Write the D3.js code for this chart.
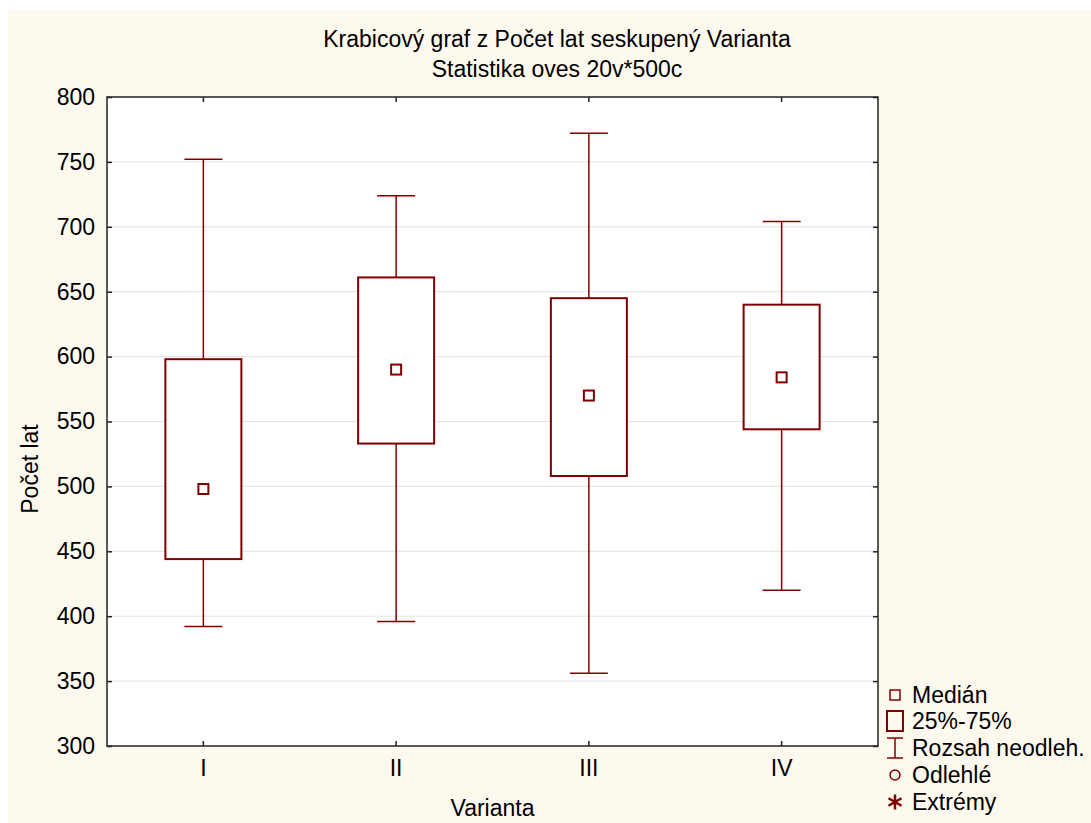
<!DOCTYPE html>
<html>
<head>
<meta charset="utf-8">
<script src="https://cdn.jsdelivr.net/npm/d3@7"></script>
<style>
  body { margin: 0; background: #ffffff; }
  text { font-family: "Liberation Sans", Arial, sans-serif; fill: #000; }
</style>
</head>
<body>
<div id="chart"></div>
<script>
// data
var categories = ["I", "II", "III", "IV"];
var whiskerLow = [392, 396, 356, 420];
var q1 = [444, 533, 508, 544];
var median = [498, 590, 570, 584];
var q3 = [598, 661, 645, 640];
var whiskerHigh = [752, 724, 772, 704];
var yTicks = [300, 350, 400, 450, 500, 550, 600, 650, 700, 750, 800];
var legendLabels = ["Medián", "25%-75%", "Rozsah neodleh.", "Odlehlé", "Extrémy"];

var width = 1091, height = 823;
var margin = { top: 97, right: 213, bottom: 77, left: 107 },
    plotW = width - margin.left - margin.right,
    plotH = height - margin.top - margin.bottom;

var red = "#800000";
var fontSize = "23px";

var svg = d3.select("#chart")
  .append("svg")
  .attr("width", width)
  .attr("height", height);

// cream background
svg.append("rect")
  .attr("x", 8).attr("y", 10)
  .attr("width", width - 8).attr("height", height - 10)
  .attr("fill", "#fdf9ee");

var g = svg.append("g")
  .attr("transform", "translate(" + margin.left + "," + margin.top + ")");

var x = d3.scaleBand()
  .domain(categories)
  .range([0, plotW])
  .paddingInner(0)
  .paddingOuter(0);

var y = d3.scaleLinear()
  .domain([300, 800])
  .range([plotH, 0]);

g.append("rect")
  .attr("width", plotW).attr("height", plotH)
  .attr("fill", "#ffffff");

// grid
g.append("g")
  .selectAll("line")
  .data(yTicks.slice(1, -1))
  .enter()
  .append("line")
  .attr("x1", 0).attr("x2", plotW)
  .attr("y1", function(d) { return y(d); })
  .attr("y2", function(d) { return y(d); })
  .attr("stroke", "#e2e2e2")
  .attr("stroke-width", 1);

// axes
var axisLeft = g.append("g")
  .call(d3.axisLeft(y).tickValues(yTicks).tickSize(-5).tickPadding(12));
var axisRight = g.append("g")
  .attr("transform", "translate(" + plotW + ",0)")
  .call(d3.axisRight(y).tickValues(yTicks).tickSize(-5).tickFormat(""));
var axisBottom = g.append("g")
  .attr("transform", "translate(0," + plotH + ")")
  .call(d3.axisBottom(x).tickSize(-5).tickPadding(14));
var axisTop = g.append("g")
  .call(d3.axisTop(x).tickSize(-5).tickFormat(""));

[axisLeft, axisRight, axisBottom, axisTop].forEach(function(a) {
  a.select(".domain").remove();
  a.selectAll("line").attr("stroke", "#222").attr("stroke-width", 1.5);
  a.selectAll("text")
    .style("font-family", "Liberation Sans, Arial, sans-serif")
    .style("font-size", fontSize)
    .attr("fill", "#000");
});

g.append("rect")
  .attr("width", plotW).attr("height", plotH)
  .attr("fill", "none")
  .attr("stroke", "#222")
  .attr("stroke-width", 1.5);

// boxes
var boxW = 76, capW = 38, medS = 10;
var rows = categories.map(function(c, i) {
  return { cat: c, lo: whiskerLow[i], q1: q1[i], med: median[i], q3: q3[i], hi: whiskerHigh[i] };
});

var box = g.selectAll(".box")
  .data(rows)
  .enter()
  .append("g")
  .attr("class", "box")
  .attr("transform", function(d) { return "translate(" + (x(d.cat) + x.bandwidth() / 2) + ",0)"; });

box.append("line")
  .attr("x1", 0).attr("x2", 0)
  .attr("y1", function(d) { return y(d.hi); })
  .attr("y2", function(d) { return y(d.q3); })
  .attr("stroke", red).attr("stroke-width", 1.5);
box.append("line")
  .attr("x1", 0).attr("x2", 0)
  .attr("y1", function(d) { return y(d.q1); })
  .attr("y2", function(d) { return y(d.lo); })
  .attr("stroke", red).attr("stroke-width", 1.5);
box.append("line")
  .attr("x1", -capW / 2).attr("x2", capW / 2)
  .attr("y1", function(d) { return y(d.hi); })
  .attr("y2", function(d) { return y(d.hi); })
  .attr("stroke", red).attr("stroke-width", 1.5);
box.append("line")
  .attr("x1", -capW / 2).attr("x2", capW / 2)
  .attr("y1", function(d) { return y(d.lo); })
  .attr("y2", function(d) { return y(d.lo); })
  .attr("stroke", red).attr("stroke-width", 1.5);
box.append("rect")
  .attr("x", -boxW / 2)
  .attr("y", function(d) { return y(d.q3); })
  .attr("width", boxW)
  .attr("height", function(d) { return y(d.q1) - y(d.q3); })
  .attr("fill", "#ffffff")
  .attr("stroke", red).attr("stroke-width", 2);
box.append("rect")
  .attr("x", -medS / 2)
  .attr("y", function(d) { return y(d.med) - medS / 2; })
  .attr("width", medS).attr("height", medS)
  .attr("fill", "#ffffff")
  .attr("stroke", red).attr("stroke-width", 2);

// titles
svg.append("text")
  .attr("x", 557).attr("y", 47)
  .attr("text-anchor", "middle")
  .style("font-size", fontSize)
  .text("Krabicový graf z Počet lat seskupený Varianta");
svg.append("text")
  .attr("x", 557).attr("y", 77)
  .attr("text-anchor", "middle")
  .style("font-size", fontSize)
  .text("Statistika oves 20v*500c");

svg.append("text")
  .attr("x", margin.left + plotW / 2).attr("y", 816)
  .attr("text-anchor", "middle")
  .style("font-size", fontSize)
  .text("Varianta");
svg.append("text")
  .attr("transform", "translate(38,469) rotate(-90)")
  .attr("text-anchor", "middle")
  .style("font-size", fontSize)
  .text("Počet lat");

// legend
var legendY = [695, 721, 748, 775, 802];
var lg = svg.append("g").attr("transform", "translate(895,0)");
lg.selectAll("text")
  .data(legendLabels)
  .enter()
  .append("text")
  .attr("x", 17)
  .attr("y", function(d, i) { return legendY[i] + 8; })
  .style("font-size", fontSize)
  .text(function(d) { return d; });

lg.append("rect")
  .attr("x", -5).attr("y", legendY[0] - 5)
  .attr("width", 10).attr("height", 10)
  .attr("fill", "none").attr("stroke", red).attr("stroke-width", 1.5);
lg.append("rect")
  .attr("x", -8).attr("y", legendY[1] - 10)
  .attr("width", 16).attr("height", 20)
  .attr("fill", "none").attr("stroke", red).attr("stroke-width", 2);
lg.append("path")
  .attr("d", "M-8," + (legendY[2] - 10) + "H8M0," + (legendY[2] - 10) + "V" + (legendY[2] + 10) + "M-8," + (legendY[2] + 10) + "H8")
  .attr("fill", "none").attr("stroke", red).attr("stroke-width", 1.5);
lg.append("circle")
  .attr("cx", 0).attr("cy", legendY[3])
  .attr("r", 5)
  .attr("fill", "none").attr("stroke", red).attr("stroke-width", 1.5);
lg.append("path")
  .attr("d", d3.symbol().type(d3.symbolAsterisk).size(160))
  .attr("transform", "translate(0," + legendY[4] + ")")
  .attr("fill", "none").attr("stroke", red).attr("stroke-width", 2.5);
</script>
</body>
</html>
